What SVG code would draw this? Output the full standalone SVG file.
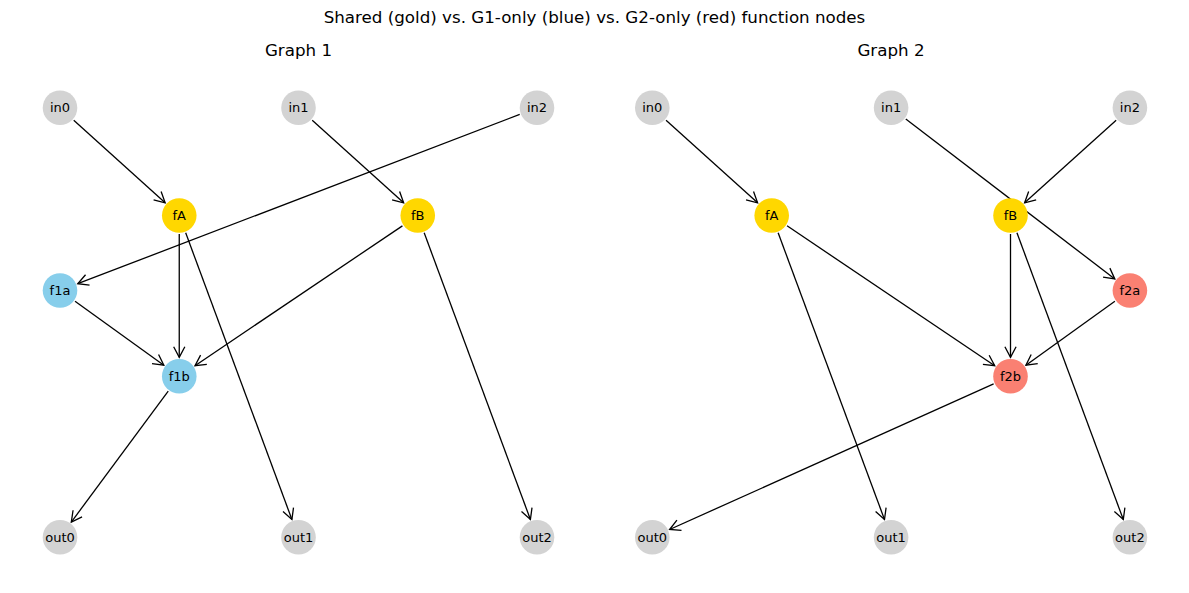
<svg xmlns="http://www.w3.org/2000/svg" width="1189" height="593" viewBox="0 0 1189 593">
<style>
text{font-family:"DejaVu Sans","Liberation Sans",sans-serif;fill:#000}
.title{font-size:16.7px;text-anchor:middle}
.lbl{font-size:13px;text-anchor:middle;dominant-baseline:central}
.e{stroke:#000;stroke-width:1.3;fill:none;marker-end:url(#ah)}
.io{fill:#d3d3d3}
.sh{fill:#ffd700}
.g1{fill:#87ceeb}
.g2{fill:#fa8072}
</style>
<defs>
<marker id="ah" viewBox="-13 -8 15 16" refX="0" refY="0" markerWidth="15" markerHeight="16" markerUnits="userSpaceOnUse" orient="auto">
<path d="M-10.5,-5.6 L0,0 L-10.5,5.6" fill="none" stroke="#000" stroke-width="1.3"/>
</marker>
</defs>
<rect width="1189" height="593" fill="#fff"/>
<text class="title" x="594.5" y="22.5">Shared (gold) vs. G1-only (blue) vs. G2-only (red) function nodes</text>
<text class="title" x="298.5" y="55.5">Graph 1</text>
<text class="title" x="891" y="55.5">Graph 2</text>
<g id="connectors">
<line class="e" x1="73.73" y1="120.20" x2="165.15" y2="202.77"/>
<line class="e" x1="312.23" y1="120.20" x2="403.65" y2="202.77"/>
<line class="e" x1="519.72" y1="114.42" x2="77.74" y2="283.70"/>
<line class="e" x1="179.25" y1="234.0" x2="179.25" y2="357.3"/>
<line class="e" x1="185.68" y1="232.85" x2="291.90" y2="519.48"/>
<line class="e" x1="402.41" y1="225.84" x2="195.00" y2="365.68"/>
<line class="e" x1="424.18" y1="232.85" x2="530.40" y2="519.48"/>
<line class="e" x1="75.02" y1="301.30" x2="163.83" y2="365.20"/>
<line class="e" x1="168.24" y1="391.17" x2="71.31" y2="522.03"/>
<line class="e" x1="666.04" y1="120.19" x2="757.59" y2="202.77"/>
<line class="e" x1="1116.16" y1="120.19" x2="1024.61" y2="202.77"/>
<line class="e" x1="905.79" y1="119.04" x2="1114.81" y2="278.95"/>
<line class="e" x1="778.14" y1="232.84" x2="884.49" y2="519.49"/>
<line class="e" x1="787.05" y1="225.83" x2="994.74" y2="365.69"/>
<line class="e" x1="1010.5" y1="234.0" x2="1010.5" y2="357.3"/>
<line class="e" x1="1016.94" y1="232.84" x2="1123.29" y2="519.49"/>
<line class="e" x1="1114.88" y1="301.30" x2="1025.93" y2="365.21"/>
<line class="e" x1="993.63" y1="383.88" x2="669.63" y2="529.51"/>
</g>
<g id="g1-in0"><circle class="io" cx="60" cy="107.8" r="17.3"/><text class="lbl" x="60" y="107.8">in0</text></g>
<g id="g1-in1"><circle class="io" cx="298.5" cy="107.8" r="17.3"/><text class="lbl" x="298.5" y="107.8">in1</text></g>
<g id="g1-in2"><circle class="io" cx="537" cy="107.8" r="17.3"/><text class="lbl" x="537" y="107.8">in2</text></g>
<g id="g1-fA"><circle class="sh" cx="179.25" cy="215.5" r="17.3"/><text class="lbl" x="179.25" y="215.5">fA</text></g>
<g id="g1-fB"><circle class="sh" cx="417.75" cy="215.5" r="17.3"/><text class="lbl" x="417.75" y="215.5">fB</text></g>
<g id="g1-f1a"><circle class="g1" cx="60" cy="290.5" r="17.3"/><text class="lbl" x="60" y="290.5">f1a</text></g>
<g id="g1-f1b"><circle class="g1" cx="179.25" cy="376.3" r="17.3"/><text class="lbl" x="179.25" y="376.3">f1b</text></g>
<g id="g1-out0"><circle class="io" cx="60" cy="537.3" r="17.3"/><text class="lbl" x="60" y="537.3">out0</text></g>
<g id="g1-out1"><circle class="io" cx="298.5" cy="537.3" r="17.3"/><text class="lbl" x="298.5" y="537.3">out1</text></g>
<g id="g1-out2"><circle class="io" cx="537" cy="537.3" r="17.3"/><text class="lbl" x="537" y="537.3">out2</text></g>
<g id="g2-in0"><circle class="io" cx="652.3" cy="107.8" r="17.3"/><text class="lbl" x="652.3" y="107.8">in0</text></g>
<g id="g2-in1"><circle class="io" cx="891.1" cy="107.8" r="17.3"/><text class="lbl" x="891.1" y="107.8">in1</text></g>
<g id="g2-in2"><circle class="io" cx="1129.9" cy="107.8" r="17.3"/><text class="lbl" x="1129.9" y="107.8">in2</text></g>
<g id="g2-fA"><circle class="sh" cx="771.7" cy="215.5" r="17.3"/><text class="lbl" x="771.7" y="215.5">fA</text></g>
<g id="g2-fB"><circle class="sh" cx="1010.5" cy="215.5" r="17.3"/><text class="lbl" x="1010.5" y="215.5">fB</text></g>
<g id="g2-f2a"><circle class="g2" cx="1129.9" cy="290.5" r="17.3"/><text class="lbl" x="1129.9" y="290.5">f2a</text></g>
<g id="g2-f2b"><circle class="g2" cx="1010.5" cy="376.3" r="17.3"/><text class="lbl" x="1010.5" y="376.3">f2b</text></g>
<g id="g2-out0"><circle class="io" cx="652.3" cy="537.3" r="17.3"/><text class="lbl" x="652.3" y="537.3">out0</text></g>
<g id="g2-out1"><circle class="io" cx="891.1" cy="537.3" r="17.3"/><text class="lbl" x="891.1" y="537.3">out1</text></g>
<g id="g2-out2"><circle class="io" cx="1129.9" cy="537.3" r="17.3"/><text class="lbl" x="1129.9" y="537.3">out2</text></g>
</svg>
